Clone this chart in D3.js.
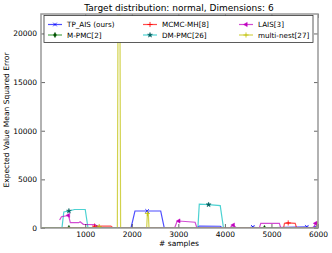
<!DOCTYPE html>
<html>
<head>
<meta charset="utf-8">
<script src="https://cdn.jsdelivr.net/npm/d3@7"></script>
<style>
  body { margin: 0; background: #fff; }
  text { font-family: "DejaVu Sans", sans-serif; fill: #000; }
</style>
</head>
<body>
<svg width="332" height="253"></svg>
<script>
// sample counts / errors, one pair of arrays per method
var tpX = [50, 1200, 1300, 1400, 1983, 2069, 2330, 2621, 2698, 3400, 3450, 3900, 3950, 4500, 4600, 4700, 5300, 5760, 5850, 6000];
var tpY = [0, 0, 120, 0, 0, 1750, 1750, 1750, 0, 0, 200, 180, 0, 0, 120, 0, 60, 130, 0, 250];

var mpmcX = [50, 650, 1250, 2500, 3500, 4850, 6000];
var mpmcY = [10, 10, 10, 10, 10, 10, 10];

var mcmcX = [50, 1150, 1200, 1550, 1600, 5260, 5280, 5360, 5510, 5540, 6000];
var mcmcY = [0, 0, 200, 200, 0, 0, 480, 520, 480, 0, 0];

var dmpmcX = [50, 500, 540, 650, 770, 1000, 1060, 1500, 2000, 3420, 3450, 3650, 3900, 3970, 6000];
var dmpmcY = [0, 0, 1650, 1750, 1900, 1900, 0, 50, 0, 0, 2450, 2400, 2300, 0, 0];

var laisX = [450, 490, 640, 680, 860, 890, 960, 1215, 1280, 2920, 2970, 3010, 3360, 3400, 4100, 4180, 4250, 4740, 4770, 5170, 5200, 5900, 5950, 6000];
var laisY = [820, 1160, 1300, 550, 550, 650, 380, 340, 0, 0, 650, 720, 590, 0, 0, 300, 0, 0, 480, 480, 0, 0, 480, 500];

var mnX = [50, 1280, 1300, 1330, 1690, 1705, 1745, 1760, 2320, 2335, 2355, 2370, 5970, 6000];
var mnY = [0, 0, 150, 0, 0, 23000, 23000, 0, 0, 1500, 1500, 0, 0, 700];

var xTicks = [1000, 2000, 3000, 4000, 5000, 6000];
var yTicks = [0, 5000, 10000, 15000, 20000];

var series = [
  {name: "TP_AIS (ours)", xs: tpX, ys: tpY, color: "#0000ff", mcolor: "#0000ff", sym: d3.symbolTimes, stroke: true, marks: [2330, 4600, 5760]},
  {name: "M-PMC[2]", xs: mpmcX, ys: mpmcY, color: "#008000", mcolor: "#005000", sym: d3.symbolDiamond, stroke: false, marks: [650, 1250, 4850]},
  {name: "MCMC-MH[8]", xs: mcmcX, ys: mcmcY, color: "#ff0000", mcolor: "#ff0000", sym: d3.symbolPlus, stroke: true, marks: [1200, 5360]},
  {name: "DM-PMC[26]", xs: dmpmcX, ys: dmpmcY, color: "#00bfbf", mcolor: "#005f5f", sym: d3.symbolStar, stroke: false, marks: [650, 3650]},
  {name: "LAIS[3]", xs: laisX, ys: laisY, color: "#bf00bf", mcolor: "#bf00bf", sym: d3.symbolTriangle, stroke: false, marks: [640, 1280, 3010, 4180, 5950]},
  {name: "multi-nest[27]", xs: mnX, ys: mnY, color: "#bfbf00", mcolor: "#bfbf00", sym: d3.symbolPlus, stroke: true, marks: [1300, 2335]}
];

var svg = d3.select("svg");
var pLeft = 41, pRight = 318, pTop = 14, pBottom = 228;

var x = d3.scaleLinear().domain([50, 6000]).range([pLeft, pRight]);
var y = d3.scaleLinear().domain([0, 22000]).range([pBottom, pTop]);

svg.append("defs").append("clipPath").attr("id", "plot")
  .append("rect").attr("x", pLeft).attr("y", pTop).attr("width", pRight - pLeft).attr("height", pBottom - pTop);

var line = d3.line()
  .x(function(d) { return x(d[0]); })
  .y(function(d) { return y(d[1]); });

function addMarker(g, s, px, py) {
  var mk = g.append("path")
    .attr("d", d3.symbol().type(s.sym).size(s.stroke ? 10 : 8)())
    .attr("transform", "translate(" + px + "," + py + ")" + (s.sym === d3.symbolTriangle ? " rotate(-90)" : ""));
  if (s.stroke) mk.attr("fill", "none").attr("stroke", s.mcolor).attr("stroke-width", 0.8);
  else mk.attr("fill", s.mcolor).attr("stroke", s.mcolor).attr("stroke-width", 0.4);
}

var plot = svg.append("g").attr("clip-path", "url(#plot)");

series.forEach(function(s) {
  var pts = s.xs.map(function(v, i) { return [v, s.ys[i]]; });
  plot.append("path")
    .datum(pts)
    .attr("d", line)
    .attr("fill", "none")
    .attr("stroke", s.color)
    .attr("stroke-opacity", 0.7)
    .attr("stroke-width", 1.2);

  s.marks.forEach(function(m) {
    var i = s.xs.indexOf(m);
    addMarker(plot, s, x(m), y(s.ys[i]));
  });
});

// axes, matplotlib classic style: ticks inside, on all four sides
var fmt = d3.format("d");
var axes = svg.append("g");
axes.append("g")
  .attr("transform", "translate(0," + pBottom + ")")
  .call(d3.axisBottom(x).tickValues(xTicks).tickSizeInner(-4).tickSizeOuter(0).tickPadding(4).tickFormat(fmt))
  .call(function(g) { g.select(".domain").remove(); });
axes.append("g")
  .attr("transform", "translate(0," + pTop + ")")
  .call(d3.axisTop(x).tickValues(xTicks).tickSizeInner(-4).tickSizeOuter(0).tickFormat(""))
  .call(function(g) { g.select(".domain").remove(); });
axes.append("g")
  .attr("transform", "translate(" + pLeft + ",0)")
  .call(d3.axisLeft(y).tickValues(yTicks).tickSizeInner(-4).tickSizeOuter(0).tickPadding(4).tickFormat(fmt))
  .call(function(g) { g.select(".domain").remove(); });
axes.append("g")
  .attr("transform", "translate(" + pRight + ",0)")
  .call(d3.axisRight(y).tickValues(yTicks).tickSizeInner(-4).tickSizeOuter(0).tickFormat(""))
  .call(function(g) { g.select(".domain").remove(); });

axes.selectAll(".tick line").attr("stroke", "#000").attr("stroke-width", 0.6);
axes.selectAll(".tick text").attr("font-size", 7.5).attr("font-family", "DejaVu Sans");

svg.append("rect")
  .attr("x", pLeft).attr("y", pTop).attr("width", pRight - pLeft).attr("height", pBottom - pTop)
  .attr("fill", "none").attr("stroke", "#999").attr("stroke-width", 1.5);

// titles
svg.append("text")
  .attr("x", 179).attr("y", 11)
  .attr("text-anchor", "middle").attr("font-size", 9)
  .text("Target distribution: normal, Dimensions: 6");
svg.append("text")
  .attr("x", 179).attr("y", 246)
  .attr("text-anchor", "middle").attr("font-size", 7.5)
  .text("# samples");
svg.append("text")
  .attr("transform", "translate(9,120) rotate(-90)")
  .attr("text-anchor", "middle").attr("font-size", 7.5)
  .text("Expected Value Mean Squared Error");

// legend, 3 columns filled column-wise
var leg = svg.append("g");
leg.append("rect")
  .attr("x", 44).attr("y", 15.5).attr("width", 269).attr("height", 27)
  .attr("fill", "#fff").attr("stroke", "#333").attr("stroke-width", 0.8);
var colX = [48, 143, 239], rowY = [24.5, 35];
series.forEach(function(s, i) {
  var cx = colX[Math.floor(i / 2)], cy = rowY[i % 2];
  leg.append("line")
    .attr("x1", cx).attr("x2", cx + 14).attr("y1", cy).attr("y2", cy)
    .attr("stroke", s.color).attr("stroke-opacity", 0.7).attr("stroke-width", 1.2);
  addMarker(leg, s, cx + 7, cy);
  leg.append("text")
    .attr("x", cx + 19).attr("y", cy + 2.6)
    .attr("font-size", 7.2)
    .text(s.name);
});
</script>
</body>
</html>
